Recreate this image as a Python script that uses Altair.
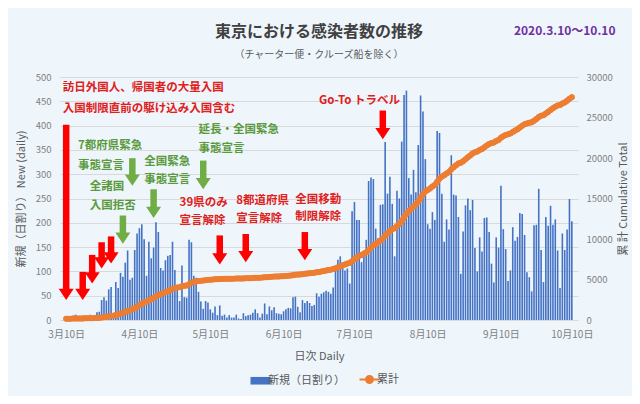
import altair as alt
import pandas as pd

FONT = "Noto Sans CJK JP"
BLUE = "#4472C4"
ORANGE = "#ED7D31"
RED = "#FF0000"
RED_TEXT = "#E0201B"
GREEN = "#70AD47"
GREEN_TEXT = "#5B9A3C"
PURPLE = "#7030A0"
AXIS_GRAY = "#808080"
TITLE_GRAY = "#404040"
BG = "#EEF6FC"

# ---- daily new cases, 2020-03-10 .. 2020-10-10 ----
daily_mar = [1, 7, 4, 9, 11, 2, 6, 9, 9, 4, 11, 7, 3, 16, 17, 41, 47, 40, 63, 68, 13, 78]
daily_apr = [66, 97, 89, 118, 143, 83, 87, 144, 178, 189, 197, 166, 91, 161, 127, 149, 201, 181,
             107, 102, 123, 132, 134, 161, 103, 72, 39, 112, 47, 46]
daily_may = [165, 160, 91, 87, 58, 38, 23, 39, 36, 22, 15, 28, 10, 30, 9, 11, 5, 10, 5, 5, 11, 3,
             2, 14, 8, 10, 11, 15, 22, 14, 5]
daily_jun = [13, 34, 12, 28, 20, 26, 14, 13, 12, 18, 22, 25, 24, 47, 48, 27, 16, 41, 35, 39, 35,
             29, 31, 55, 48, 54, 57, 60, 58, 54]
daily_jul = [67, 107, 124, 131, 111, 102, 106, 75, 224, 243, 206, 206, 119, 143, 165, 286, 293,
             290, 188, 168, 237, 238, 366, 260, 295, 239, 131, 266, 250, 367, 463]
daily_aug = [472, 292, 258, 309, 263, 360, 462, 429, 331, 197, 188, 222, 206, 389, 385, 260, 161,
             207, 186, 339, 258, 256, 212, 95, 182, 236, 250, 226, 247, 148, 100]
daily_sep = [170, 141, 210, 211, 181, 116, 77, 170, 149, 276, 187, 146, 80, 102, 191, 163, 171,
             220, 218, 175, 98, 88, 59, 195, 196, 270, 144, 78, 212, 194]
daily_oct = [235, 196, 207, 143, 66, 178, 144, 186, 249, 203]

cases_before_start = 150  # cumulative count before 3/10

series_bar = "新規（日割り）"
series_line = "累計"

# ---- annotations ----
arrow_dates = ["2020-03-10", "2020-03-17", "2020-03-21", "2020-03-25", "2020-03-29",
               "2020-05-14", "2020-05-25", "2020-06-19", "2020-07-22",
               "2020-04-03", "2020-04-07", "2020-04-16", "2020-05-07"]
arrow_tops = [402, 99, 134, 160, 172, 174, 177, 181, 431, 215, 333, 269, 328]
arrow_tips = [41, 41, 75, 106, 116, 114, 119, 123, 372, 157, 276, 210, 269]
arrow_kinds = ["red"] * 9 + ["green"] * 4

note_dates = ["2020-03-08T14:00:00Z", "2020-03-08T14:00:00Z",
              "2020-04-27", "2020-04-27", "2020-05-21", "2020-05-21",
              "2020-06-15", "2020-06-15", "2020-06-25",
              "2020-03-15", "2020-03-15", "2020-03-20", "2020-03-20",
              "2020-04-12", "2020-04-12", "2020-05-05", "2020-05-05"]
note_values = [478, 435, 240, 204, 245, 208, 247, 211, 451,
               358, 317, 273, 235, 326, 288, 390, 351]
note_texts = ["訪日外国人、帰国者の大量入国", "入国制限直前の駆け込み入国含む",
              "39県のみ", "宣言解除", "8都道府県", "宣言解除", "全国移動", "制限解除",
              "Go-To トラベル",
              "7都府県緊急", "事態宣言", "全諸国", "入国拒否", "全国緊急", "事態宣言",
              "延長・全国緊急", "事態宣言"]
note_kinds = ["red"] * 9 + ["green"] * 8

period_label = "2020.3.10～10.10"
period_date = "2020-10-07"
period_value = 594

tick_months = [3, 4, 5, 6, 7, 8, 9, 10]


def iso(d):
    return d if "T" in d else d + "T00:00:00Z"


daily = daily_mar + daily_apr + daily_may + daily_jun + daily_jul + daily_aug + daily_sep + daily_oct
dates = pd.date_range("2020-03-10", periods=len(daily), freq="D").strftime("%Y-%m-%dT00:00:00Z")
df = pd.DataFrame({"date": list(dates), "daily": daily, "series": series_bar})

arrows_df = pd.DataFrame({"date": [iso(d) for d in arrow_dates], "top": arrow_tops,
                          "tip": arrow_tips, "kind": arrow_kinds})
notes_df = pd.DataFrame({"date": [iso(d) for d in note_dates], "value": note_values,
                         "label": note_texts, "kind": note_kinds})
period_df = pd.DataFrame({"date": [iso(period_date)], "value": [period_value], "label": [period_label]})

x_scale = alt.Scale(type="utc", domain=[
    alt.DateTime(year=2020, month=3, date=9, hours=12, utc=True),
    alt.DateTime(year=2020, month=10, date=10, hours=12, utc=True)])
y_left = alt.Scale(domain=[0, 500])

x_axis = alt.Axis(
    values=[alt.DateTime(year=2020, month=m, date=10, utc=True) for m in tick_months],
    labelExpr="(utcmonth(datum.value)+1) + '月' + utcdate(datum.value) + '日'",
    grid=False, ticks=False, domain=False, labelColor=AXIS_GRAY, labelFontSize=10,
    labelPadding=9, labelFlush=False, labelOverlap=False,
    title="日次 Daily", titleColor="#595959", titleFontSize=11, titleFontWeight="normal",
    titlePadding=11)

left_axis = alt.Axis(values=list(range(0, 501, 50)), format="d", grid=True, gridColor="#D9D9D9",
                     ticks=False, domain=False, labelColor=AXIS_GRAY, labelFontSize=9.5,
                     labelPadding=9, title="新規（日割り） New (daily)", titleColor="#595959",
                     titleFontSize=11, titleFontWeight="normal", titlePadding=9)

right_axis = alt.Axis(orient="right", values=list(range(0, 30001, 5000)), format="d", grid=False,
                      ticks=False, domain=False, labelColor=AXIS_GRAY, labelFontSize=9.5,
                      labelPadding=8, title="累 計  Cumulative Total", titleColor="#595959",
                      titleFontSize=11, titleFontWeight="normal", titleAngle=270, titlePadding=16)

RECT_SYM = "M-1,-0.38H1V0.38H-1Z"
LINE_SYM = "M-1,0H1M-0.35,0A0.35,0.35,0,1,1,0.35,0A0.35,0.35,0,1,1,-0.35,0Z"
is_line = f"datum.value === '{series_line}'"
legend = alt.Legend(
    orient="none", legendX=195, legendY=297, direction="horizontal", title=None,
    symbolSize=400, labelFontSize=11, labelColor="#595959", labelFont=FONT, columnPadding=10,
    labelOffset=2, padding=0, symbolOpacity=1,
    symbolType=alt.ExprRef(expr=f"{is_line} ? '{LINE_SYM}' : '{RECT_SYM}'"),
    symbolFillColor=alt.ExprRef(expr=f"{is_line} ? '{ORANGE}' : '{BLUE}'"),
    symbolStrokeColor=alt.ExprRef(expr=f"{is_line} ? '{ORANGE}' : '{BLUE}'"),
    symbolStrokeWidth=alt.ExprRef(expr=f"{is_line} ? 2 : 0"),
)
color_scale = alt.Scale(domain=[series_bar, series_line], range=[BLUE, ORANGE])

X = alt.X("date:T", scale=x_scale, axis=x_axis)


def Y(field):
    return alt.Y(field, scale=y_left, axis=left_axis)


bars = alt.Chart(df).mark_bar(size=1.6).encode(
    x=X, y=Y("daily:Q"),
    color=alt.Color("series:N", scale=color_scale, legend=legend),
)

HEAD = "M-1,-1.5L1,-1.5L0,0Z"


def arrow_layers(kind, color):
    base = alt.Chart(arrows_df).transform_filter(alt.datum.kind == kind)
    shaft = base.transform_calculate(neck="datum.tip + 16").mark_rule(
        color=color, strokeWidth=6.5).encode(x=X, y=Y("top:Q"), y2="neck:Q")
    head = base.mark_point(shape=HEAD, filled=True, size=225, color=color, opacity=1,
                           strokeWidth=0).encode(x=X, y=Y("tip:Q"))
    return [shaft, head]


def note_layer(kind, color):
    return alt.Chart(notes_df).transform_filter(alt.datum.kind == kind).mark_text(
        align="left", baseline="middle", font=FONT, fontSize=11.5, fontWeight="bold",
        color=color).encode(x=X, y=Y("value:Q"), text="label:N")


period = alt.Chart(period_df).mark_text(
    align="center", baseline="middle", font=FONT, fontSize=12, fontWeight="bold",
    color=PURPLE).encode(x=X, y=Y("value:Q"), text="label:N")

inner = alt.layer(bars, *arrow_layers("red", RED), *arrow_layers("green", GREEN),
                  note_layer("red", RED_TEXT), note_layer("green", GREEN_TEXT), period)

line = alt.Chart(df).transform_window(
    cum="sum(daily)", sort=[alt.SortField("date")], frame=[None, 0]
).transform_calculate(
    total=f"datum.cum + {cases_before_start}", series=f"'{series_line}'"
).mark_line(strokeWidth=5.5, strokeCap="round", strokeJoin="round",
            point=alt.OverlayMarkDef(filled=True, size=36, color=ORANGE)).encode(
    x=X,
    y=alt.Y("total:Q", scale=alt.Scale(domain=[0, 30000]), axis=right_axis),
    color=alt.Color("series:N", scale=color_scale, legend=legend),
)

title = alt.TitleParams(
    text="東京における感染者数の推移", subtitle="（チャーター便・クルーズ船を除く）",
    anchor="middle", frame="group", font=FONT, fontSize=16, fontWeight="bold", color=TITLE_GRAY,
    subtitleFont=FONT, subtitleFontSize=10, subtitleColor="#595959", subtitlePadding=10,
    offset=-35)

chart = alt.layer(inner, line).resolve_scale(y="independent").properties(
    width=518, height=243, title=title,
    autosize=alt.AutoSizeParams(type="none"),
    padding={"left": 52, "top": 69, "right": 54, "bottom": 76},
    background=BG,
).configure_view(stroke=None).configure_axis(labelFont=FONT, titleFont=FONT)

chart.save("out.html", embed_options={"renderer": "svg", "actions": False})
